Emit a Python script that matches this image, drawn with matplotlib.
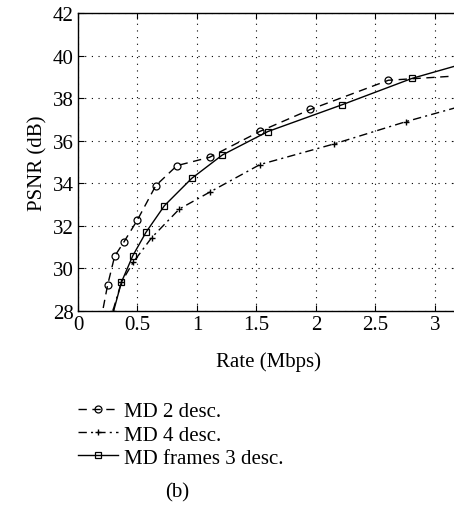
import matplotlib.pyplot as plt
import numpy as np

plt.rcParams['font.family'] = ['Liberation Serif', 'DejaVu Serif']

# data (rate in Mbps, PSNR in dB)
md2_rate = [0.19, 0.249, 0.308, 0.388, 0.498, 0.654, 0.832, 1.106, 1.53, 1.955, 2.61, 3.4]
md2_psnr = [27.5, 29.22, 30.57, 31.26, 32.26, 33.89, 34.83, 35.22, 36.44, 37.47, 38.84, 39.12]

md4_rate = [0.294, 0.365, 0.464, 0.62, 0.852, 1.106, 1.53, 2.154, 2.76, 3.4]
md4_psnr = [28.02, 29.35, 30.29, 31.45, 32.79, 33.58, 34.88, 35.85, 36.9, 37.9]

md3_rate = [0.28, 0.365, 0.461, 0.572, 0.727, 0.956, 1.214, 1.596, 2.216, 2.81, 3.4]
md3_psnr = [27.6, 29.35, 30.6, 31.7, 32.95, 34.23, 35.33, 36.43, 37.68, 38.93, 39.87]

labels = ['MD 2 desc.', 'MD 4 desc.', 'MD frames 3 desc.']
xticks = [0, 0.5, 1, 1.5, 2, 2.5, 3]
xticklabels = ['0', '0.5', '1', '1.5', '2', '2.5', '3']
yticks = np.arange(28, 43, 2)

fig = plt.figure(figsize=(4.54, 5.10), dpi=100)
ax = fig.add_axes([78 / 454, 1 - 312 / 510, 1 - 78 / 454 + 0.01, 298 / 510])

ax.plot(md2_rate, md2_psnr, color='black', lw=1.0, linestyle=(0, (6, 4)),
        marker='o', ms=5, mfc='none', mew=0.9, label=labels[0])
ax.plot(md4_rate, md4_psnr, color='black', lw=1.0, linestyle=(0, (6, 3, 1.5, 3)),
        marker='+', ms=5, mew=1.0, label=labels[1])
ax.plot(md3_rate, md3_psnr, color='black', lw=1.0, linestyle='-',
        marker='s', ms=4, mfc='none', mew=0.9, label=labels[2])

ax.set_xlim(0, 3.2)
ax.set_ylim(28, 42)
ax.set_xticks(xticks)
ax.set_xticklabels(xticklabels)
ax.set_yticks(yticks)
ax.grid(True, color='black', linestyle=(0, (1, 5)), linewidth=0.8)
ax.tick_params(direction='in', top=True, right=True, labelsize=15, length=4, pad=3)
for s in ax.spines.values():
    s.set_linewidth(1.0)

ax.set_xlabel('Rate (Mbps)', fontsize=15, labelpad=12)
ax.set_ylabel('PSNR (dB)', fontsize=15, labelpad=4)

leg = ax.legend(loc='upper left', bbox_to_anchor=(0.0, -0.305), frameon=False,
                fontsize=15, handlelength=1.9, handletextpad=0.3,
                labelspacing=0.17, borderaxespad=0, borderpad=0)

fig.text(177 / 454, 1 - 493 / 510, '(b)', fontsize=15, ha='center', va='center')

fig.savefig('out.png', dpi=100)
